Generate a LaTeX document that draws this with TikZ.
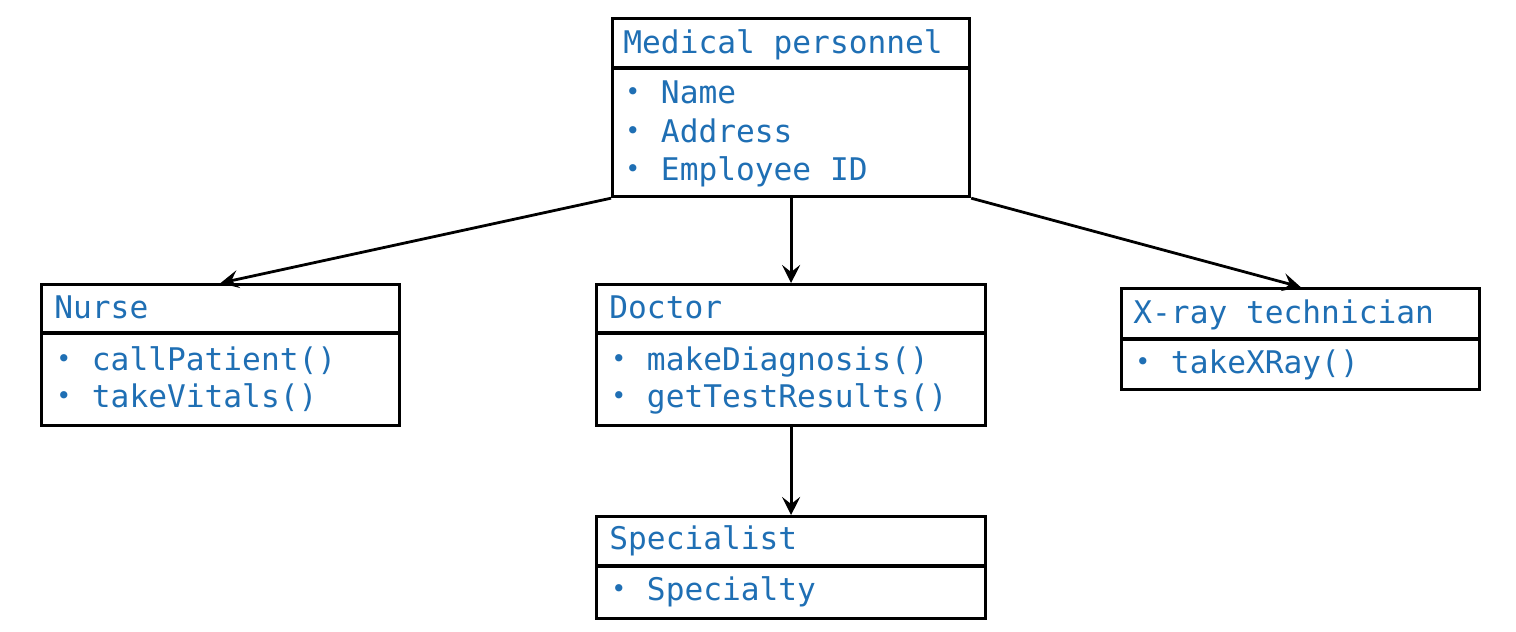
\documentclass[tikz,border=0pt]{standalone}
\usepackage{fontspec}
\setmonofont{DejaVu Sans Mono}
\usetikzlibrary{arrows.meta}
\definecolor{txtblue}{HTML}{1F6FB4}
\newcommand{\smbul}{\makebox[0.602em][c]{\raisebox{0.08em}{\scalebox{0.8}{•}}}}
\begin{document}
\begin{tikzpicture}[x=0.5pt,y=-0.5pt,
  box/.style={draw=black, line width=1.6pt, inner sep=0pt, anchor=north west, fill=white},
  lbl/.style={text=txtblue, font=\ttfamily\fontsize{15.6}{19}\selectfont, anchor=base west, inner sep=0pt},
  divider/.style={line width=1.6pt},
  conn/.style={line width=1.4pt, -{Stealth[length=9pt,width=9pt,inset=3.5pt]}}]
\useasboundingbox (0,0) rectangle (1516,632);
% boxes
\node[box, minimum width=178.5pt, minimum height=89pt] (mp) at (611,17) {};
\node[box, minimum width=179pt, minimum height=70.5pt] (nurse) at (40,283) {};
\node[box, minimum width=194.5pt, minimum height=70.5pt] (doctor) at (595,283) {};
\node[box, minimum width=179pt, minimum height=50.5pt] (xray) at (1120,287) {};
\node[box, minimum width=194.5pt, minimum height=51pt] (spec) at (595,515) {};
% dividers
\draw[divider] (mp.west |- 0,68) -- (mp.east |- 0,68);
\draw[divider] (nurse.west |- 0,333) -- (nurse.east |- 0,333);
\draw[divider] (doctor.west |- 0,333) -- (doctor.east |- 0,333);
\draw[divider] (xray.west |- 0,339) -- (xray.east |- 0,339);
\draw[divider] (spec.west |- 0,566) -- (spec.east |- 0,566);
% texts
\node[lbl] (mpH) at (623,53) {Medical personnel};
\node[lbl] (mp1) at (623,103) {\smbul{} Name};
\node[lbl] (mp2) at (623,142) {\smbul{} Address};
\node[lbl] (mp3) at (623,180) {\smbul{} Employee ID};
\node[lbl] (nuH) at (54,318) {Nurse};
\node[lbl] (nu1) at (54,370) {\smbul{} callPatient()};
\node[lbl] (nu2) at (54,407) {\smbul{} takeVitals()};
\node[lbl] (doH) at (609,318) {Doctor};
\node[lbl] (do1) at (609,370) {\smbul{} makeDiagnosis()};
\node[lbl] (do2) at (609,407) {\smbul{} getTestResults()};
\node[lbl] (xrH) at (1133,323) {X-ray technician};
\node[lbl] (xr1) at (1133,373) {\smbul{} takeXRay()};
\node[lbl] (spH) at (609,549) {Specialist};
\node[lbl] (sp1) at (609,600) {\smbul{} Specialty};
% connectors
\draw[conn] (mp.south west) -- (nurse.north);
\draw[conn] (mp.south) -- (doctor.north);
\draw[conn] (mp.south east) -- (xray.north);
\draw[conn] (doctor.south) -- (spec.north);
\end{tikzpicture}
\end{document}
